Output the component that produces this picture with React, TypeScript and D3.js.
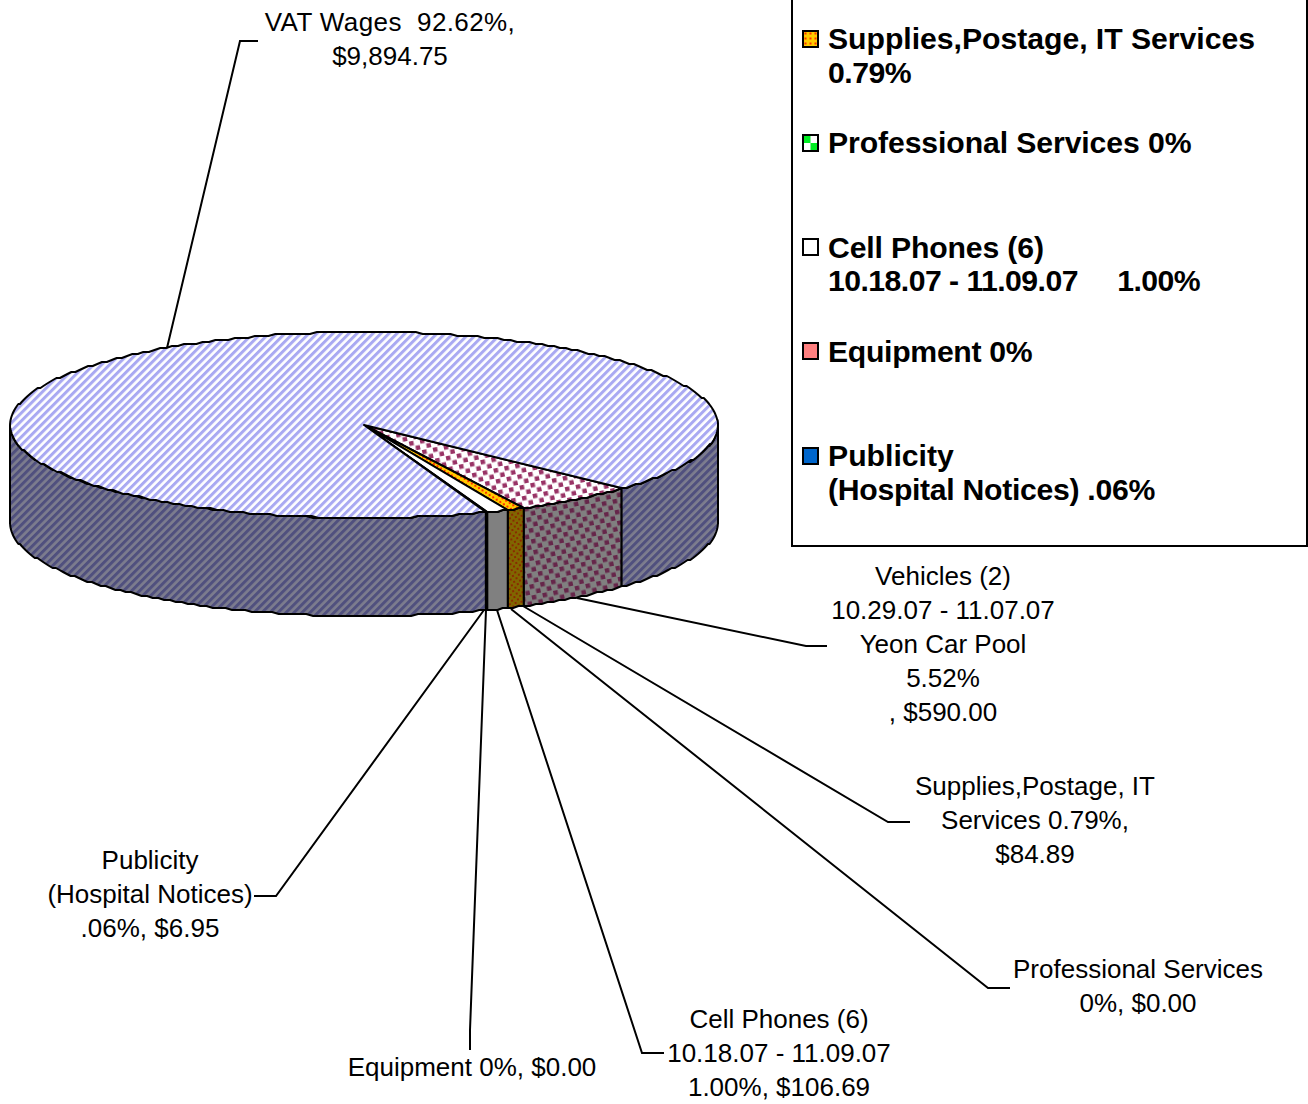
import React from "react";
import * as d3 from "d3";

const sliceNames = ["Vehicles", "Supplies", "Professional", "Cell", "Equipment", "Publicity", "VAT"];
const sliceValues = [590.0, 84.89, 0, 106.69, 0, 6.95, 9894.75];
const topFills = ["url(#vehTop)", "url(#supTop)", "url(#proTop)", "#ffffff", "#ff8080", "#0066cc", "url(#vatTop)"];
const sideFills = ["url(#vehSide)", "url(#supSide)", "#808080", "#808080", "#804040", "#808080", "url(#vatSide)"];

const legendSwatches = ["url(#supLeg)", "url(#proLeg)", "#ffffff", "#ff8080", "#0066cc"];
const legendLines = [
  ["Supplies,Postage, IT Services", "0.79%"],
  ["Professional Services 0%"],
  ["Cell Phones (6)", "10.18.07 - 11.09.07     1.00%"],
  ["Equipment 0%"],
  ["Publicity", "(Hospital Notices) .06%"],
];
const legendSwatchY = [39, 143, 247, 351, 456];
const legendBaselines = [[49, 83], [153], [258, 291], [362], [466, 500]];
const legendTracking = [[-0.03, -0.5], [-0.1], [-0.15, -0.54], [-0.3], [0, -0.3]];

const labelTexts = [
  ["VAT Wages  92.62%,", "$9,894.75"],
  ["Vehicles (2)", "10.29.07 - 11.07.07", "Yeon Car Pool", "5.52%", ", $590.00"],
  ["Supplies,Postage, IT", "Services 0.79%,", "$84.89"],
  ["Professional Services", "0%, $0.00"],
  ["Cell Phones (6)", "10.18.07 - 11.09.07", "1.00%, $106.69"],
  ["Equipment 0%, $0.00"],
  ["Publicity", "(Hospital Notices)", ".06%, $6.95"],
];
const labelCenters = [390, 943, 1035, 1138, 779, 472, 150];
const labelBaselines = [31, 585, 795, 978, 1028, 1076, 869];
const labelTracking = [0.4, 0, 0, 0, 0, 0, 0];
const leaders: [number, number][][] = [
  [[167, 348], [240, 41], [258, 41]],
  [[577, 598], [806, 646], [827, 646]],
  [[523, 606], [888, 822], [910, 822]],
  [[511, 609], [988, 988], [1010, 988]],
  [[497, 610], [642, 1053], [664, 1053]],
  [[486, 610], [470, 1030], [470, 1050]],
  [[484, 610], [276, 896], [254, 896]],
];

const W = 1308, H = 1104;
const cx = 364, cy = 425, rx = 354, ry = 93, depth = 98;
const startDeg = 133.3;

const pieGen = d3.pie<number>().sort(null).startAngle((startDeg * Math.PI) / 180).endAngle((startDeg * Math.PI) / 180 + 2 * Math.PI);
const arcs = pieGen(sliceValues);

const grid = 2;
const snap = (v: number) => Math.round(v / grid) * grid;
// d3.pie angle: 0 at north, clockwise
const pt = (a: number, dz = 0): [number, number] => [cx + rx * Math.sin(a), snap(cy - ry * Math.cos(a) + dz)];
const lineGen = d3.line();
const sample = (a0: number, a1: number, dz = 0) => {
  const n = Math.max(2, Math.ceil(Math.abs(a1 - a0) / 0.02));
  return d3.range(n + 1).map((i) => pt(a0 + ((a1 - a0) * i) / n, dz));
};
const topPath = (a0: number, a1: number) => lineGen([[cx, cy], ...sample(a0, a1)]) + "Z";

// side wall is visible on the lower half of the ellipse
const sidePaths = (a0: number, a1: number) => {
  const out: string[] = [];
  for (const k of [0, 1]) {
    const lo = Math.max(a0, Math.PI / 2 + k * 2 * Math.PI);
    const hi = Math.min(a1, (3 * Math.PI) / 2 + k * 2 * Math.PI);
    if (hi > lo) {
      const up = sample(lo, hi);
      const dn = sample(hi, lo, depth);
      out.push(lineGen([...up, ...dn]) + "Z");
    }
  }
  return out;
};

function Dots({ id, bg, fg, size, d }: { id: string; bg: string; fg: string; size: number; d: number }) {
  return (
    <pattern id={id} width={size} height={size} patternUnits="userSpaceOnUse" patternTransform="rotate(-12)">
      <rect width={size} height={size} fill={bg} />
      <rect x={0} y={0} width={d} height={d} fill={fg} />
      <rect x={size / 2} y={size / 2} width={d} height={d} fill={fg} />
    </pattern>
  );
}

export default function App() {
  const font = "'Liberation Sans', Arial, sans-serif";
  return (
    <svg width={W} height={H} viewBox={`0 0 ${W} ${H}`} style={{ position: "absolute", left: 0, top: 0, background: "#fff" }}>
      <defs>
        <pattern id="vatTop" width={5.66} height={5.66} patternUnits="userSpaceOnUse" patternTransform="rotate(45)">
          <rect width={5.66} height={5.66} fill="#ffffff" />
          <rect width={3} height={5.66} fill="#a9a9f2" />
        </pattern>
        <pattern id="vatSide" width={5.66} height={5.66} patternUnits="userSpaceOnUse" patternTransform="rotate(45)">
          <rect width={5.66} height={5.66} fill="#7d7d8e" />
          <rect width={3} height={5.66} fill="#50507e" />
        </pattern>
        <Dots id="vehTop" bg="#ffffff" fg="#993366" size={11} d={4.5} />
        <Dots id="vehSide" bg="#808080" fg="#66264a" size={11} d={4.5} />
        <Dots id="supTop" bg="#ffcc00" fg="#ff3300" size={6} d={2} />
        <Dots id="supSide" bg="#806600" fg="#8a2a00" size={6} d={2} />
        <pattern id="supLeg" width={5} height={5} patternUnits="userSpaceOnUse" x={803} y={31}>
          <rect width={5} height={5} fill="#ffcc00" />
          <rect x={1.5} y={1.5} width={2} height={2} fill="#ff3300" />
        </pattern>
        <pattern id="proLeg" width={1} height={1} patternUnits="objectBoundingBox" patternContentUnits="objectBoundingBox">
          <rect width={1} height={1} fill="#ffffff" />
          <rect width={0.5} height={0.5} fill="#00ee22" />
          <rect x={0.5} y={0.5} width={0.5} height={0.5} fill="#00ee22" />
        </pattern>
        <pattern id="proTop" width={8} height={8} patternUnits="userSpaceOnUse">
          <rect width={8} height={8} fill="#ffffff" />
          <rect width={4} height={4} fill="#00ee22" />
          <rect x={4} y={4} width={4} height={4} fill="#00ee22" />
        </pattern>
      </defs>

      <g stroke="#000" strokeWidth={2} strokeLinejoin="round">
        {arcs.map((a, i) =>
          sidePaths(a.startAngle, a.endAngle).map((d, j) => (
            <path key={`s${i}-${j}`} d={d} fill={sideFills[i]} data-name={sliceNames[i]} />
          ))
        )}
        {arcs.map((a, i) =>
          a.endAngle > a.startAngle ? (
            <path key={`t${i}`} d={topPath(a.startAngle, a.endAngle)} fill={topFills[i]} data-name={sliceNames[i]} />
          ) : null
        )}
      </g>

      <g fill="none" stroke="#000" strokeWidth={2}>
        {leaders.map((l, i) => (
          <path key={i} d={lineGen(l) as string} />
        ))}
      </g>

      <g fontFamily={font} fontSize={26} textAnchor="middle" fill="#000">
        {labelTexts.map((lines, i) =>
          lines.map((t, j) => (
            <text
              key={`${i}-${j}`}
              x={labelCenters[i]}
              y={labelBaselines[i] + j * 34}
              letterSpacing={j === 0 ? labelTracking[i] : 0}
              xmlSpace="preserve"
              style={{ whiteSpace: "pre" }}
            >
              {t}
            </text>
          ))
        )}
      </g>

      <rect x={792} y={-4} width={515} height={550} fill="none" stroke="#000" strokeWidth={2} />
      <g>
        {legendLines.map((lines, i) => (
          <g key={i}>
            <rect x={803} y={legendSwatchY[i] - 8} width={15} height={16} fill={legendSwatches[i]} stroke="#000" strokeWidth={2} />
            {lines.map((t, j) => (
              <text
                key={j}
                x={828}
                y={legendBaselines[i][j]}
                fontFamily={font}
                fontWeight={700}
                fontSize={30.2}
                letterSpacing={legendTracking[i][j]}
                fill="#000"
                xmlSpace="preserve"
                style={{ whiteSpace: "pre" }}
              >
                {t}
              </text>
            ))}
          </g>
        ))}
      </g>
    </svg>
  );
}
